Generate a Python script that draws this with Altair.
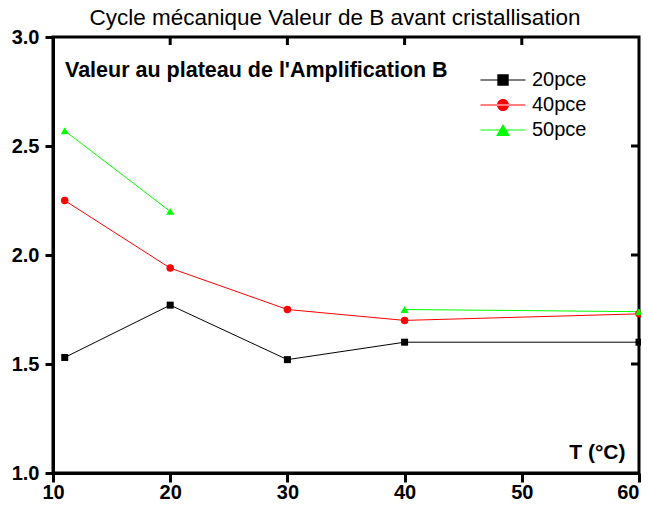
import altair as alt
import pandas as pd

# ---- data ----
temps = [11, 20, 30, 40, 60]
b_20pce = [1.53, 1.77, 1.52, 1.60, 1.60]
b_40pce = [2.25, 1.94, 1.75, 1.70, 1.73]
b_50pce = [2.57, 2.20, None, 1.75, 1.74]
series = ["20pce", "40pce", "50pce"]
colors = ["#000000", "#ff0000", "#00ff00"]
shapes = ["square", "circle", "triangle-up"]
marker_sizes = [49, 64, 100]
x_ticks = [10, 20, 30, 40, 50, 60]
y_ticks = [1.0, 1.5, 2.0, 2.5, 3.0]
top_ticks = [20, 30, 40, 50]
right_ticks = [1.5, 2.0, 2.5]
title_text = "Cycle mécanique Valeur de B avant cristallisation"
note_text = "Valeur au plateau de l'Amplification B"
x_title = "T (°C)"

# legend symbols: a thin line with the marker in its middle (unit box = symbol size)
LINE = "M-3.75,-0.09H3.75V0.09H-3.75Z "
legend_shapes = [
    LINE + "M-0.95,-0.95H0.95V0.95H-0.95Z",
    LINE + "M-1,0A1,1,0,1,0,1,0A1,1,0,1,0,-1,0Z",
    LINE + "M0,-1L1.15,1H-1.15Z",
]

rows = []
for name, vals in zip(series, [b_20pce, b_40pce, b_50pce]):
    seg = 0
    for t, v in zip(temps, vals):
        if v is None:
            seg += 1
            continue
        rows.append({"T": t, "B": v, "serie": name, "seg": f"{name}-{seg}"})
df = pd.DataFrame(rows)

W, H = 586, 436
FONT = "Liberation Sans"
xs = alt.Scale(domain=[10, 60], nice=False, zero=False)
ys = alt.Scale(domain=[1.0, 3.0], nice=False, zero=False)
cscale = alt.Scale(domain=series, range=colors)

lines = alt.Chart(df).mark_line(strokeWidth=1).encode(
    x=alt.X("T:Q", scale=xs, axis=alt.Axis(
        values=x_ticks, format="d", title=x_title, tickSize=9, labelPadding=0,
        labelFlush=False,
        labelAlign={"condition": {"test": "datum.value == 60", "value": "right"}, "value": "center"},
        titleX=572, titleY=-15, titleAlign="right", titleBaseline="alphabetic",
        titleFont=FONT, titleFontSize=21, titleFontWeight="bold", titleColor="black")),
    y=alt.Y("B:Q", scale=ys, axis=alt.Axis(values=y_ticks, format=".1f", title=None,
                                           tickSize=8, labelPadding=6)),
    color=alt.Color("serie:N", scale=cscale, legend=None),
    detail="seg:N",
)

points = alt.Chart(df).mark_point(filled=True, opacity=1).encode(
    x=alt.X("T:Q", scale=xs),
    y=alt.Y("B:Q", scale=ys),
    color=alt.Color("serie:N", scale=cscale, legend=None),
    shape=alt.Shape("serie:N", scale=alt.Scale(domain=series, range=shapes), legend=None),
    size=alt.Size("serie:N", scale=alt.Scale(domain=series, range=marker_sizes), legend=None),
)

leg = alt.Legend(orient="none", legendX=440, legendY=33, title=None,
                 symbolSize=144, symbolOpacity=1, labelFont=FONT, labelFontSize=20,
                 labelColor="black", labelOffset=19, rowPadding=5, padding=0)
legend_layer = alt.Chart(df).transform_filter("datum.T < 0").mark_point(filled=True, opacity=1).encode(
    x=alt.X("T:Q", scale=xs),
    y=alt.Y("B:Q", scale=ys),
    color=alt.Color("serie:N", scale=cscale, legend=leg),
    shape=alt.Shape("serie:N", scale=alt.Scale(domain=series, range=legend_shapes), legend=leg),
)

top_t = alt.Chart(pd.DataFrame({"T": top_ticks})).mark_rule(color="black", strokeWidth=3).encode(
    x=alt.X("T:Q", scale=xs), y=alt.value(0), y2=alt.value(8))
right_t = alt.Chart(pd.DataFrame({"B": right_ticks})).mark_rule(color="black", strokeWidth=3).encode(
    y=alt.Y("B:Q", scale=ys), x=alt.value(W - 8), x2=alt.value(W))

note = alt.Chart(pd.DataFrame({"t": [note_text]})).mark_text(
    align="left", baseline="alphabetic", font=FONT, fontSize=21.5, fontWeight="bold", color="black"
).encode(x=alt.value(12), y=alt.value(39.5), text="t:N")

chart = alt.layer(lines, points, legend_layer, top_t, right_t, note).resolve_scale(
    color="independent", shape="independent", size="independent"
).resolve_legend(color="independent", shape="independent").properties(
    width=W, height=H,
    autosize=alt.AutoSizeParams(type="none"),
    padding={"left": 45, "top": 29, "right": 2, "bottom": 27},
    title=alt.TitleParams(title_text, font=FONT, fontSize=22.5, fontWeight="normal",
                          color="black", anchor="middle", dx=-11, offset=-20,
                          baseline="alphabetic"),
).configure_view(stroke="black", strokeWidth=3).configure_axis(
    domainColor="black", domainWidth=3, tickColor="black", tickWidth=3,
    labelFont=FONT, labelFontSize=20, labelFontWeight="bold", labelColor="black", grid=False,
)

chart.save("out.html", embed_options={"renderer": "svg", "actions": False})
